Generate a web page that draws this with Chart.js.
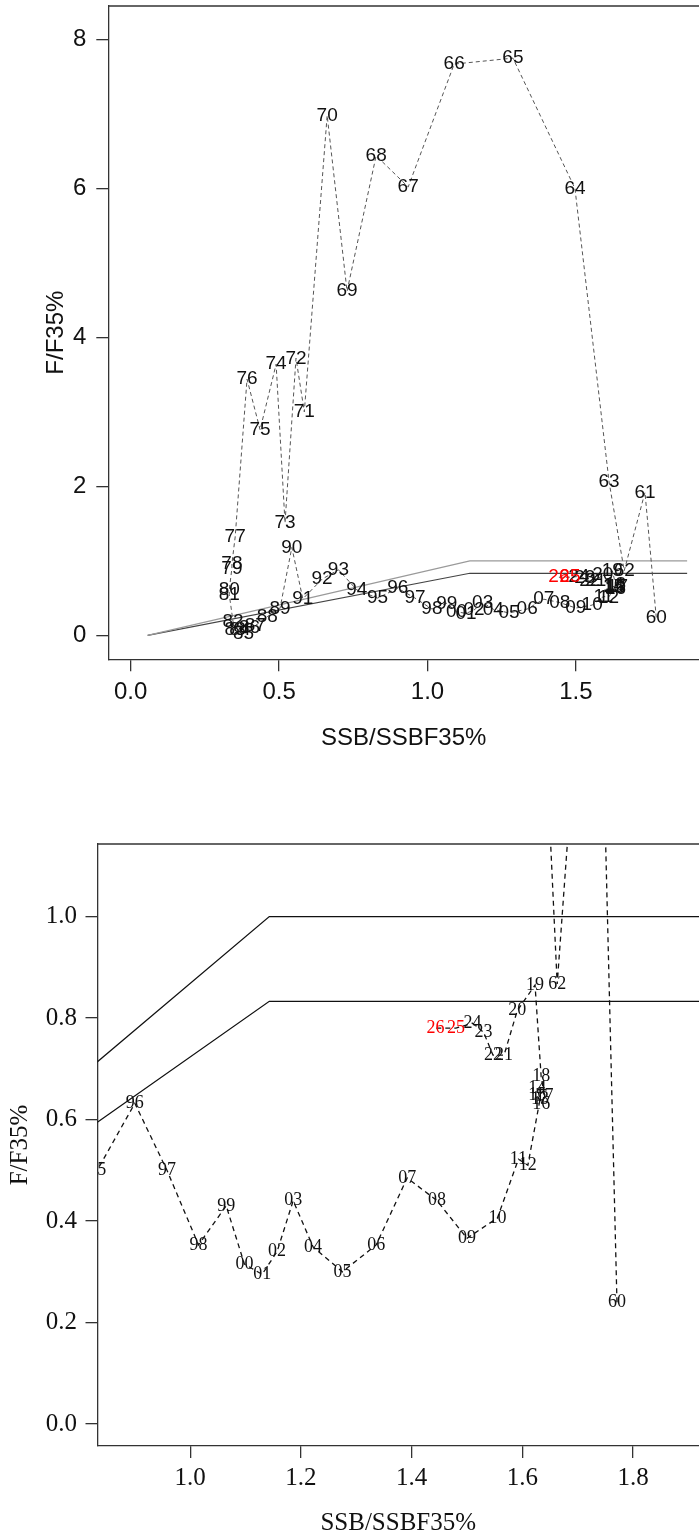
<!DOCTYPE html>
<html>
<head>
<meta charset="utf-8">
<script src="https://cdn.jsdelivr.net/npm/chart.js@4.4.1/dist/chart.umd.min.js"></script>
<style>
  body { margin: 0; background: #fff; }
  canvas { position: absolute; left: 0; }
  #topChart { top: 0; }
  #zoomChart { top: 770px; }
</style>
</head>
<body>
<canvas id="topChart" width="699" height="770"></canvas>
<canvas id="zoomChart" width="699" height="766"></canvas>
<script>
// years 1960..2026
const years = [];
for (let y = 1960; y <= 2026; y++) years.push(y);
const redYears = [2025, 2026];

const ssbRatio = [
  1.771, 1.733, 1.663, 1.612, 1.497, 1.288, 1.090, 0.935, 0.827, 0.729,
  0.662, 0.585, 0.557, 0.520, 0.490, 0.436, 0.392, 0.352, 0.341, 0.341,
  0.332, 0.332, 0.345, 0.352, 0.368, 0.380, 0.400, 0.420, 0.460, 0.503,
  0.543, 0.580, 0.645, 0.700, 0.762, 0.832, 0.900, 0.958, 1.015, 1.065,
  1.098, 1.130, 1.157, 1.186, 1.222, 1.275, 1.336, 1.392, 1.446, 1.500,
  1.555, 1.593, 1.610, 1.632, 1.627, 1.627, 1.634, 1.640, 1.634, 1.623,
  1.591, 1.567, 1.547, 1.530, 1.510, 1.480, 1.443
];
const fRatio = [
  0.24, 1.92, 0.867, 2.06, 6.00, 7.75, 7.67, 6.02, 6.44, 4.62,
  6.98, 3.00, 3.72, 1.51, 3.64, 2.76, 3.44, 1.32, 0.96, 0.90,
  0.61, 0.55, 0.18, 0.08, 0.07, 0.02, 0.10, 0.13, 0.25, 0.36,
  1.18, 0.49, 0.755, 0.88, 0.61, 0.50, 0.632, 0.50, 0.353, 0.43,
  0.315, 0.295, 0.340, 0.440, 0.349, 0.300, 0.353, 0.485, 0.440, 0.366,
  0.406, 0.522, 0.510, 0.640, 0.662, 0.648, 0.630, 0.646, 0.685, 0.865,
  0.815, 0.727, 0.727, 0.772, 0.790, 0.780, 0.780
];

// harvest control rule segments
const ruleSsbTop = [0.0571, 1.1429, 1.875];
const ruleSsbZoom = [0.0571, 1.1429, 1.95];
const ruleOfl = [0, 1, 1];
const ruleAbc = [0, 0.833, 0.833];

const xTicksTop = [0, 0.5, 1.0, 1.5];
const yTicksTop = [0, 2, 4, 6, 8];
const xTicksZoom = [1.0, 1.2, 1.4, 1.6, 1.8];
const yTicksZoom = [0.0, 0.2, 0.4, 0.6, 0.8, 1.0];

const toPts = (xs, ys) => xs.map((x, i) => ({ x: x, y: ys[i] }));
const yearText = y => String(y % 100).padStart(2, '0');

const yearLabels = {
  id: 'yearLabels',
  afterDatasetsDraw(chart, args, opts) {
    const ctx = chart.ctx;
    const a = chart.chartArea;
    const meta = chart.getDatasetMeta(0);
    ctx.save();
    ctx.beginPath();
    ctx.rect(a.left, a.top, a.right - a.left, a.bottom - a.top);
    ctx.clip();
    ctx.font = opts.font;
    ctx.textAlign = 'center';
    ctx.textBaseline = 'middle';
    meta.data.forEach((pt, i) => {
      ctx.fillStyle = redYears.includes(years[i]) ? '#ff0000' : opts.color;
      ctx.fillText(yearText(years[i]), pt.x, pt.y);
    });
    ctx.restore();
    // top side of the box
    ctx.save();
    ctx.strokeStyle = opts.boxColor;
    ctx.lineWidth = opts.boxWidth;
    ctx.beginPath();
    ctx.moveTo(a.left, a.top);
    ctx.lineTo(a.right, a.top);
    ctx.stroke();
    ctx.restore();
  }
};

function makeChart(id, cfg) {
  const axisFont = { family: cfg.family, size: cfg.tickSize };
  return new Chart(document.getElementById(id), {
    type: 'scatter',
    data: {
      datasets: [
        {
          data: toPts(ssbRatio, fRatio),
          showLine: true,
          borderColor: cfg.pathColor,
          borderWidth: cfg.pathWidth,
          borderDash: cfg.dash,
          pointRadius: 0
        },
        {
          data: toPts(cfg.ruleX, ruleOfl),
          showLine: true,
          borderColor: cfg.oflColor,
          borderWidth: cfg.ruleWidth,
          pointRadius: 0
        },
        {
          data: toPts(cfg.ruleX, ruleAbc),
          showLine: true,
          borderColor: cfg.abcColor,
          borderWidth: cfg.ruleWidth,
          pointRadius: 0
        }
      ]
    },
    options: {
      responsive: false,
      animation: false,
      devicePixelRatio: 1,
      layout: { padding: { top: cfg.padTop, left: 0, right: 0, bottom: 0 } },
      plugins: {
        legend: { display: false },
        tooltip: { enabled: false },
        yearLabels: {
          font: cfg.labelSize + 'px ' + cfg.family,
          color: '#111',
          boxColor: '#333',
          boxWidth: 1.3
        }
      },
      scales: {
        x: {
          type: 'linear',
          min: cfg.xMin,
          max: cfg.xMax,
          afterBuildTicks: s => { s.ticks = cfg.xTicks.map(v => ({ value: v })); },
          afterFit: s => { s.height = cfg.xAxisHeight; s.paddingLeft = 0; s.paddingRight = 0; },
          grid: { drawOnChartArea: false, drawTicks: true, tickLength: 12, color: '#333', lineWidth: 1.3 },
          border: { display: true, color: '#333', width: 1.3 },
          ticks: {
            font: axisFont, color: '#111', padding: cfg.xTickPad, maxRotation: 0,
            callback: v => v.toFixed(1)
          },
          title: {
            display: true, text: 'SSB/SSBF35%', color: '#111',
            font: { family: cfg.family, size: cfg.titleSize, lineHeight: 1 },
            padding: { top: 0, bottom: cfg.xTitlePad }
          }
        },
        y: {
          type: 'linear',
          min: cfg.yMin,
          max: cfg.yMax,
          afterBuildTicks: s => { s.ticks = cfg.yTicks.map(v => ({ value: v })); },
          afterFit: s => { s.width = cfg.yAxisWidth; s.paddingTop = 0; s.paddingBottom = 0; },
          grid: { drawOnChartArea: false, drawTicks: true, tickLength: 12, color: '#333', lineWidth: 1.3 },
          border: { display: true, color: '#333', width: 1.3 },
          ticks: {
            font: axisFont, color: '#111', padding: cfg.yTickPad,
            callback: cfg.yFmt
          },
          title: {
            display: true, text: 'F/F35%', color: '#111',
            font: { family: cfg.family, size: cfg.titleSize, lineHeight: 1 },
            padding: { top: cfg.yTitlePad, bottom: 0 }
          }
        }
      }
    },
    plugins: [yearLabels]
  });
}

makeChart('topChart', {
  family: '"Liberation Sans", Arial, sans-serif',
  tickSize: 24, titleSize: 24, labelSize: 19,
  pathColor: '#555', pathWidth: 1, dash: [4, 3],
  oflColor: '#9a9a9a', abcColor: '#444', ruleWidth: 1.2,
  ruleX: ruleSsbTop,
  xMin: -0.0755, xMax: 1.915, yMin: -0.322, yMax: 8.45,
  xTicks: xTicksTop, yTicks: yTicksTop,
  yFmt: v => String(v),
  padTop: 6, xAxisHeight: 110.7, yAxisWidth: 108.3,
  xTickPad: 7, xTitlePad: 20, yTickPad: 10, yTitlePad: 44
});

makeChart('zoomChart', {
  family: '"Liberation Serif", "Times New Roman", serif',
  tickSize: 25, titleSize: 25, labelSize: 18,
  pathColor: '#111', pathWidth: 1.3, dash: [5, 4],
  oflColor: '#111', abcColor: '#111', ruleWidth: 1.3,
  ruleX: ruleSsbZoom,
  xMin: 0.8325, xMax: 1.9192, yMin: -0.0433, yMax: 1.143,
  xTicks: xTicksZoom, yTicks: yTicksZoom,
  yFmt: v => v.toFixed(1),
  padTop: 74, xAxisHeight: 90, yAxisWidth: 97.5,
  xTickPad: 5, xTitlePad: 0, yTickPad: 8.5, yTitlePad: 8
});
</script>
</body>
</html>
